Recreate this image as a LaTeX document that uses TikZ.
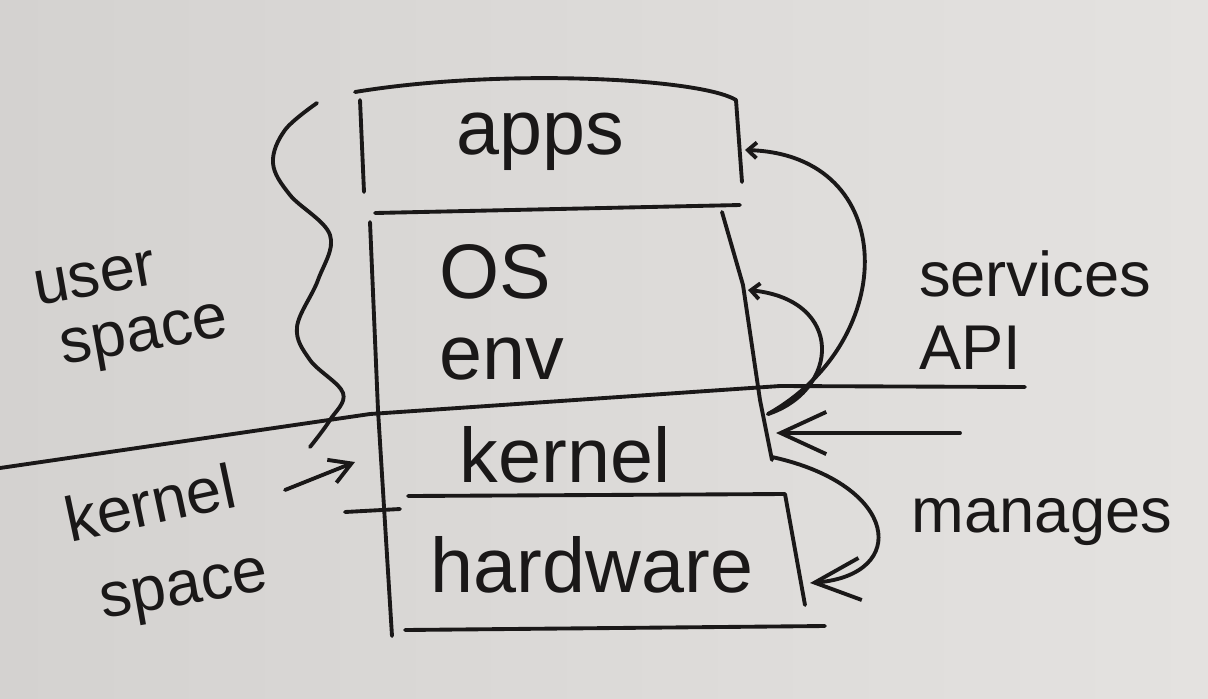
\documentclass[tikz,border=0pt]{standalone}
\usepackage{fontspec}
\setmainfont{Liberation Sans}
\usetikzlibrary{calc}
\usetikzlibrary{positioning}
\usetikzlibrary{arrows.meta}
\definecolor{board}{RGB}{212,210,208}
\definecolor{boardlight}{RGB}{228,226,224}
\definecolor{marker}{RGB}{26,24,24}
\tikzstyle{pen} = [draw=marker, line width=2.2pt, line cap=round, line join=round]
\tikzstyle{bigbarb} = [pen, -{Straight Barb[length=26pt, width=24pt, line width=2.2pt]}]
\tikzstyle{midbarb} = [pen, -{Straight Barb[length=12pt, width=14pt, line width=2.2pt]}]
\tikzstyle{smallbarb} = [pen, -{Straight Barb[length=5pt, width=9pt, line width=2.2pt]}]
\tikzstyle{layernode} = [text=marker, font=\fontsize{44}{46}\selectfont, inner sep=0pt]
\tikzstyle{sidenode} = [text=marker, font=\fontsize{36}{42}\selectfont, align=left, inner sep=0pt]

\begin{document}
\begin{tikzpicture}[x=0.02cm, y=-0.02cm]
\shade[left color=board, right color=boardlight] (0,0) rectangle (1208,698);
\useasboundingbox (0,0) rectangle (1208,698);

% layers of the stack
\node[layernode] (apps) at (540,142) {apps};
\node[layernode, align=left] (osenv) at ($(apps)+(-38,170)$) {OS\\env};
\node[layernode] (kernel) at ($(apps)+(25,313)$) {kernel};
\node[layernode] (hardware) at ($(kernel)+(27,110)$) {hardware};

% side labels
\node[sidenode, rotate=10] (userlbl) at (95,278) {user};
\node[sidenode, rotate=10] (userlbl2) at ($(userlbl)+(50,62)$) {space};
\node[sidenode, rotate=12] (kernellbl) at (150,502) {kernel};
\node[sidenode, rotate=10] (kernellbl2) at ($(kernellbl)+(35,92)$) {space};
\node[sidenode] (apilbl) at (1035,310) {services\\API};
\node[sidenode] (manageslbl) at (1042,522) {manages};

% stack outline
\draw[pen] (355,92) .. controls (500,68) and (700,78) .. (736,100) -- (742,182);
\draw[pen] (360,100) -- (364,192);
\draw[pen] (375,213) -- (740,205);
\draw[pen] (370,222) -- (378,410) -- (392,636);
\draw[pen] (722,212) -- (743,285) -- (760,400) -- (772,460);
\draw[pen] (0,468) -- (370,414) -- (780,386) -- (1025,387);
\draw[pen] (345,512) -- (400,509);
\draw[pen] (408,496) -- (785,494) -- (805,605);
\draw[pen] (405,630) -- (825,626);

% brace for user space
\draw[pen] plot[smooth, tension=0.6] coordinates {(317,103) (285,130) (273,163) (290,195) (330,235) (318,280) (297,327) (310,360) (343,393) (330,420) (310,447)};

% arrow ends
\coordinate (appsE) at (745,150);
\coordinate (osE) at (748,290);
\coordinate (kernelE) at (768,414);
\coordinate (kernelE2) at (776,433);
\coordinate (kernelE3) at (772,457);
\coordinate (hwE) at (810,583);
\coordinate (apiW) at (960,433);
\coordinate (ksfrom) at (285,490);
\coordinate (kernelW) at (355,462);

\draw[smallbarb] (kernelE) .. controls (900,340) and (900,155) .. (appsE);
\draw[smallbarb] (kernelE) .. controls (840,390) and (845,300) .. (osE);
\draw[bigbarb] (apiW) -- (kernelE2);
\draw[bigbarb] (kernelE3) .. controls (900,485) and (910,575) .. (hwE);
\draw[midbarb] (ksfrom) -- (kernelW);
\end{tikzpicture}
\end{document}
